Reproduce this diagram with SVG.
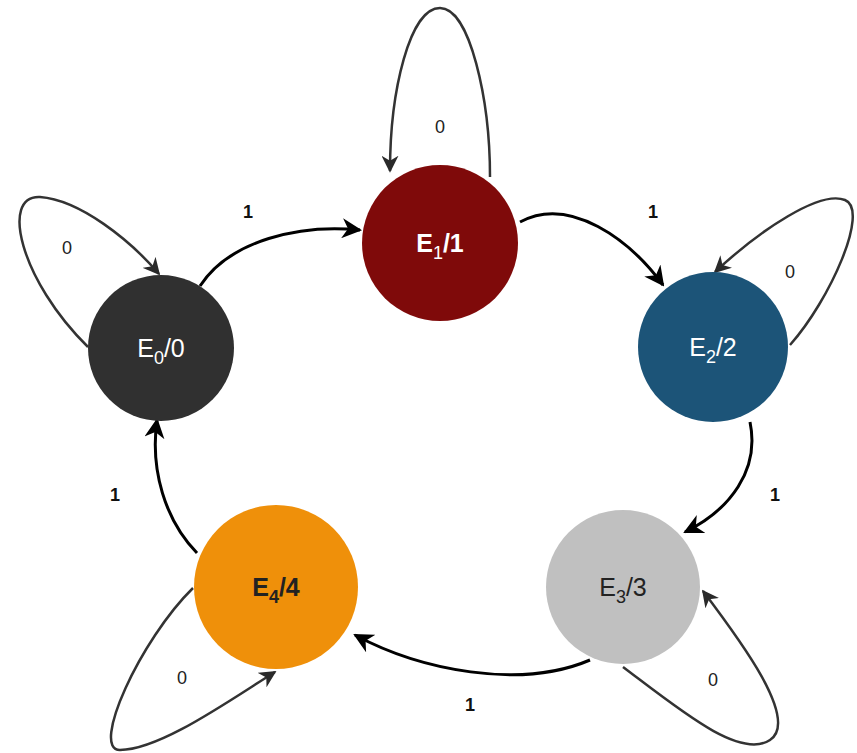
<svg xmlns="http://www.w3.org/2000/svg" width="857" height="753" viewBox="0 0 857 753">
<defs>
<marker id="ahl" viewBox="0 0 10 10" refX="9" refY="5" markerWidth="17" markerHeight="17" markerUnits="userSpaceOnUse" orient="auto">
<path d="M0,0 L10,5 L0,10 L3,5 z" fill="#2a2a2a"/>
</marker>
<marker id="ahb" viewBox="0 0 10 10" refX="9" refY="5" markerWidth="20" markerHeight="20" markerUnits="userSpaceOnUse" orient="auto">
<path d="M0,0 L10,5 L0,10 L3,5 z" fill="#000"/>
</marker>
</defs>
<style>
.edge{fill:none;stroke:#000;stroke-width:3;marker-end:url(#ahb)}
.loop{fill:none;stroke:#333;stroke-width:2.5;marker-end:url(#ahl)}
.st{font-family:"Liberation Sans",Arial,sans-serif;font-size:25px;text-anchor:middle}
.sub{font-size:18px}
.lbl{font-family:"Liberation Sans",Arial,sans-serif;font-size:18px;font-weight:bold;text-anchor:middle;fill:#111}
.lbl0{font-family:"Liberation Sans",Arial,sans-serif;font-size:18px;text-anchor:middle;fill:#222}
</style>
<rect width="857" height="753" fill="#fff"/>
<g id="connectors">
<path class="edge" d="M200,286 C230,240 300,224 360,230"/>
<path class="edge" d="M520,222 C570,195 630,240 663,285"/>
<path class="edge" d="M750,422 C760,470 730,510 685,532"/>
<path class="edge" d="M590,660 C520,690 420,670 355,635"/>
<path class="edge" d="M197,553 C165,520 150,470 157,420"/>
<path class="loop" d="M88,347 C20,280 0,195 40,197 C80,200 130,240 159,274"/>
<path class="loop" d="M490,177 C490,100 470,8 440,8 C410,8 390,90 390,171"/>
<path class="loop" d="M790,345 C830,300 870,210 845,200 C820,190 760,230 715,272"/>
<path class="loop" d="M623,667 C680,710 740,760 770,740 C800,720 740,640 703,591"/>
<path class="loop" d="M193,588 C140,640 90,750 120,750 C160,750 230,700 275,672"/>
<text class="lbl" x="248" y="218">1</text>
<text class="lbl" x="653" y="218">1</text>
<text class="lbl" x="775" y="501">1</text>
<text class="lbl" x="470" y="711">1</text>
<text class="lbl" x="115" y="501">1</text>
<text class="lbl0" x="67" y="254">0</text>
<text class="lbl0" x="440" y="133">0</text>
<text class="lbl0" x="790" y="278">0</text>
<text class="lbl0" x="713" y="686">0</text>
<text class="lbl0" x="182" y="684">0</text>
</g>
<g id="E0">
<circle cx="161" cy="348" r="73" fill="#303030"/>
<text class="st" x="161" y="357" fill="#fff">E<tspan class="sub" dy="7">0</tspan><tspan dy="-7">/0</tspan></text>
</g>
<g id="E1">
<circle cx="440" cy="243" r="78" fill="#7f0a0a"/>
<text class="st" x="440" y="252" fill="#fff" font-weight="bold">E<tspan class="sub" dy="7" font-weight="normal">1</tspan><tspan dy="-7">/1</tspan></text>
</g>
<g id="E2">
<circle cx="713" cy="347" r="75" fill="#1c5478"/>
<text class="st" x="713" y="356" fill="#fff">E<tspan class="sub" dy="7">2</tspan><tspan dy="-7">/2</tspan></text>
</g>
<g id="E3">
<circle cx="623" cy="587" r="77" fill="#c0c0c0"/>
<text class="st" x="623" y="596" fill="#222">E<tspan class="sub" dy="7">3</tspan><tspan dy="-7">/3</tspan></text>
</g>
<g id="E4">
<circle cx="276" cy="587" r="82" fill="#ef900a"/>
<text class="st" x="276" y="596" fill="#222" font-weight="bold">E<tspan class="sub" dy="7">4</tspan><tspan dy="-7">/4</tspan></text>
</g>
</svg>
